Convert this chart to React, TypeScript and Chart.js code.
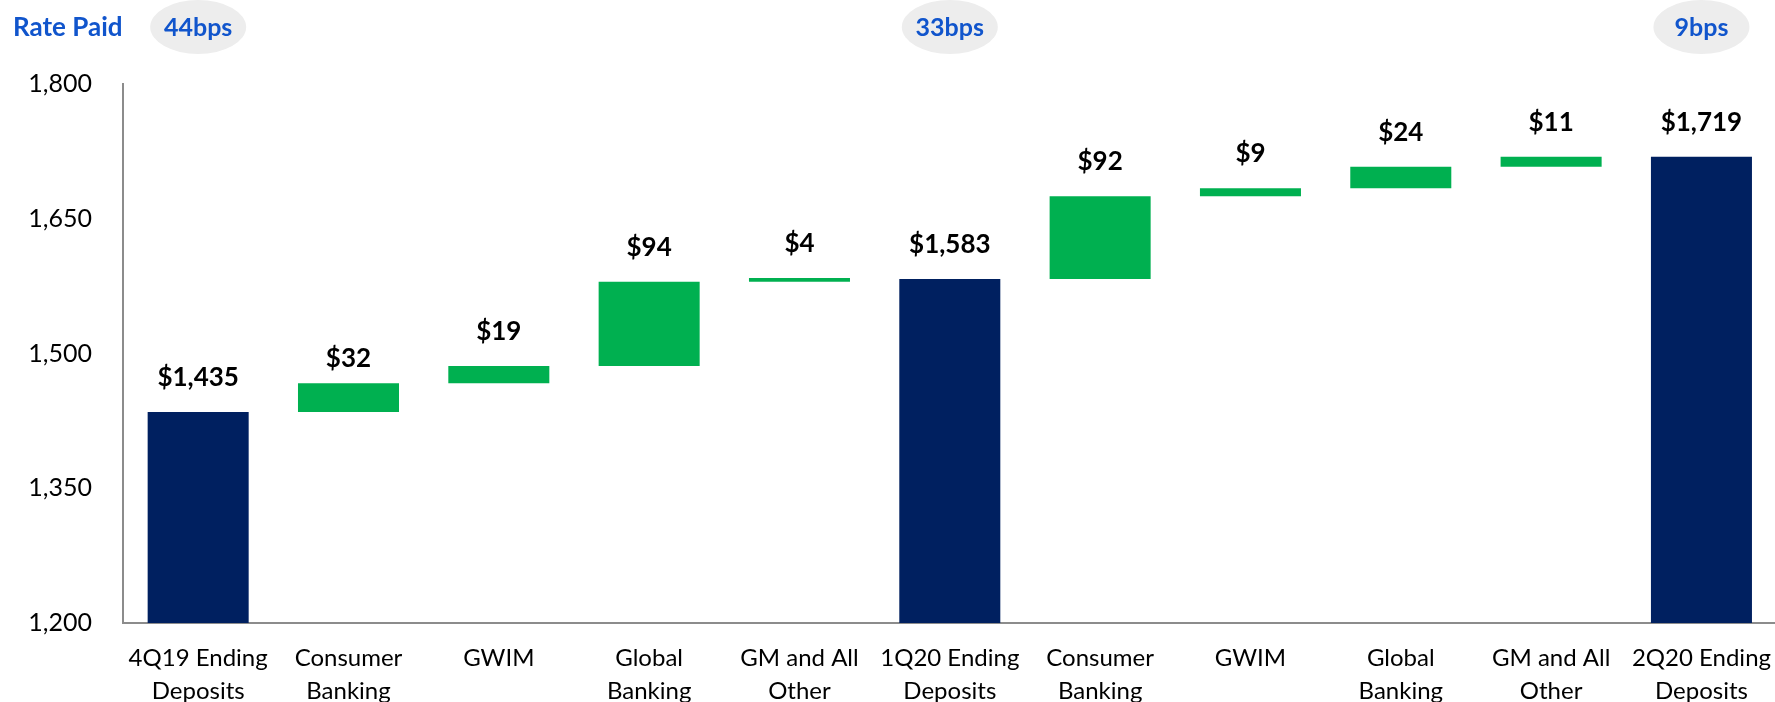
import React, { useEffect, useRef } from "react";
import { Chart, registerables } from "chart.js";

Chart.register(...registerables);

const categories: string[][] = [
  ["4Q19 Ending", "Deposits"],
  ["Consumer", "Banking"],
  ["GWIM"],
  ["Global", "Banking"],
  ["GM and All", "Other"],
  ["1Q20 Ending", "Deposits"],
  ["Consumer", "Banking"],
  ["GWIM"],
  ["Global", "Banking"],
  ["GM and All", "Other"],
  ["2Q20 Ending", "Deposits"],
];
const values: number[] = [1435, 32, 19, 94, 4, 1583, 92, 9, 24, 11, 1719];
const isTotal: boolean[] = [true, false, false, false, false, true, false, false, false, false, true];
const valueLabels: string[] = ["$1,435", "$32", "$19", "$94", "$4", "$1,583", "$92", "$9", "$24", "$11", "$1,719"];
const rateIndex: number[] = [0, 5, 10];
const rateLabels: string[] = ["44bps", "33bps", "9bps"];
const yTicks: number[] = [1200, 1350, 1500, 1650, 1800];

const NAVY = "#002060";
const GREEN = "#00B050";
const BLUE = "#1155CC";
const FONT = "Lato, 'Open Sans', sans-serif";
const CANVAS_W = 1790;

export default function App() {
  const ref = useRef<HTMLCanvasElement | null>(null);
  useEffect(() => {
    if (!ref.current) return;
    const floating: [number, number][] = [];
    let run = 0;
    values.forEach((v, i) => {
      if (isTotal[i]) {
        floating.push([1200, v]);
        run = v;
      } else {
        floating.push([run, run + v]);
        run = run + v;
      }
    });

    const overlay = {
      id: "overlay",
      afterDatasetsDraw(chart: any) {
        const ctx = chart.ctx;
        const meta = chart.getDatasetMeta(0);
        ctx.save();
        ctx.font = `bold 26px ${FONT}`;
        ctx.fillStyle = "#000";
        ctx.textAlign = "center";
        ctx.textBaseline = "alphabetic";
        meta.data.forEach((bar: any, i: number) => {
          const top = Math.min(bar.y, bar.base);
          const gap = i === 1 ? 16 : 26;
          ctx.fillText(valueLabels[i], bar.x, top - gap);
        });
        ctx.fillStyle = BLUE;
        ctx.textAlign = "left";
        ctx.font = `bold 26px ${FONT}`;
        ctx.fillText("Rate Paid", 13, 36);
        rateIndex.forEach((idx, k) => {
          const x = meta.data[idx].x;
          ctx.beginPath();
          ctx.ellipse(x, 27, 48, 27, 0, 0, Math.PI * 2);
          ctx.fillStyle = "#EDEDED";
          ctx.fill();
          ctx.fillStyle = BLUE;
          ctx.textAlign = "center";
          ctx.font = `bold 25px ${FONT}`;
          ctx.fillText(rateLabels[k], x, 36);
        });
        ctx.restore();
      },
    };

    const chart = new Chart(ref.current, {
      type: "bar",
      data: {
        labels: categories,
        datasets: [
          {
            data: floating as any,
            backgroundColor: isTotal.map((t) => (t ? NAVY : GREEN)),
            borderWidth: 0,
            barPercentage: 0.672,
            categoryPercentage: 1,
            borderSkipped: false,
          },
        ],
      },
      options: {
        responsive: false,
        animation: false,
        devicePixelRatio: 1,
        layout: { padding: { top: 84, left: 0, right: 0, bottom: 0 } },
        plugins: {
          legend: { display: false },
          tooltip: { enabled: false },
        },
        scales: {
          x: {
            grid: { display: false, drawTicks: false },
            border: { color: "#8C8C8C", width: 2 },
            ticks: {
              color: "#000",
              font: { family: FONT, size: 24, lineHeight: 1.38 },
              padding: 19,
              maxRotation: 0,
              autoSkip: false,
            },
            afterFit: (s: any) => {
              s.height = 79;
            },
          },
          y: {
            min: 1200,
            max: 1800,
            afterBuildTicks: (s: any) => {
              s.ticks = yTicks.map((v) => ({ value: v }));
            },
            grid: { display: false, drawTicks: false },
            border: { color: "#8C8C8C", width: 2 },
            ticks: {
              color: "#000",
              font: { family: FONT, size: 25 },
              padding: 31,
              callback: (v: any) => Number(v).toLocaleString("en-US"),
            },
            afterFit: (s: any) => {
              s.width = 123;
            },
          },
        },
      },
      plugins: [overlay],
    });
    return () => chart.destroy();
  }, []);

  return (
    <div style={{ position: "absolute", left: 0, top: 0, width: 1775, height: 702, background: "#fff", overflow: "hidden" }}>
      <canvas ref={ref} width={CANVAS_W} height={702} style={{ display: "block", width: CANVAS_W, height: 702 }} />
    </div>
  );
}
